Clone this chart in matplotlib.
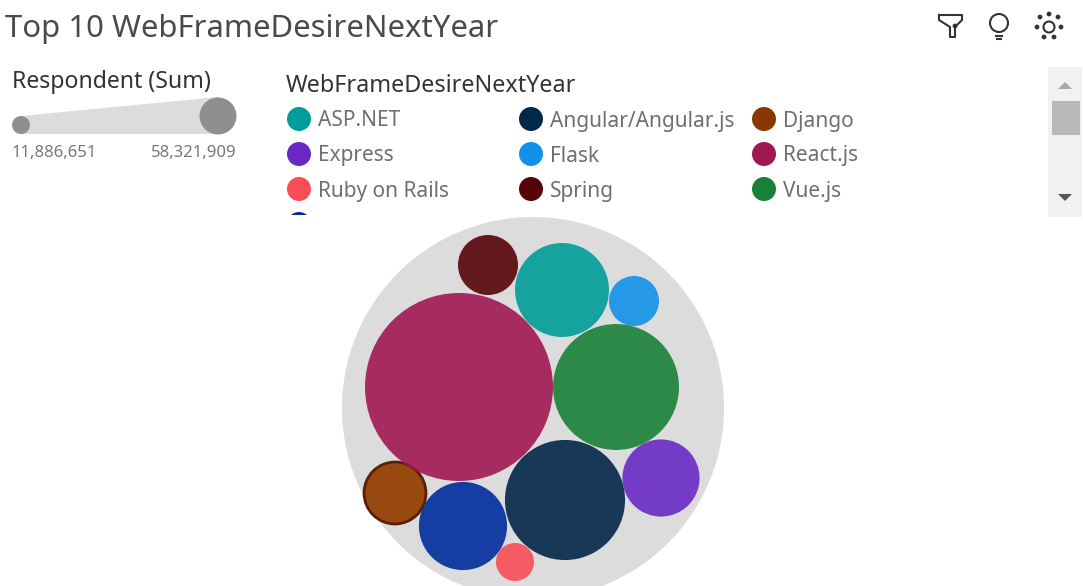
import matplotlib as mpl
mpl.use('Agg')
import matplotlib.pyplot as plt
from matplotlib.patches import Circle, Polygon, Rectangle

plt.rcParams['font.family'] = ['Noto Sans', 'DejaVu Sans']

# data
frameworks = ['ASP.NET', 'Angular/Angular.js', 'Django', 'Express', 'Flask',
              'React.js', 'Ruby on Rails', 'Spring', 'Vue.js', 'jQuery']
respondents = [29200000, 37300000, 19300000, 24000000, 15600000,
               58321909, 11886651, 18700000, 39100000, 27400000]
colors = ['#009d9a', '#012749', '#8a3800', '#6929c4', '#1192e8',
          '#9f1853', '#fa4d56', '#570408', '#198038', '#002d9c']
# packed layout positions, in pixels
layout_x = [562, 565, 395, 661, 634, 459, 515, 488, 616, 463]
layout_y = [290, 500, 493, 478, 301, 387, 562, 265, 387, 526]
range_labels = ['11,886,651', '58,321,909']

vmin, vmax = min(respondents), max(respondents)
rmin, rmax = 19, 94


def radius(v):
    return rmin + (v - vmin) / (vmax - vmin) * (rmax - rmin)


fig = plt.figure(figsize=(10.83, 5.86), dpi=100)
ax = fig.add_axes([0, 0, 1, 1])
ax.set_xlim(0, 1083)
ax.set_ylim(586, 0)
ax.axis('off')

ax.text(5, 29, 'Top 10 WebFrameDesireNextYear', fontsize=22.4, color='#4a4a4a', va='center')

# size legend
ax.text(12, 82, 'Respondent (Sum)', fontsize=16.6, color='#333333', va='center')
ax.add_patch(Polygon([(21, 116), (218, 97), (218, 134), (21, 134)], fc='#dcdcdc', ec='none'))
ax.add_patch(Circle((21, 125), 9, fc='#8f8f8f', ec='none'))
ax.add_patch(Circle((218, 116), 18.5, fc='#8f8f8f', ec='none'))
ax.text(12, 153, range_labels[0], fontsize=12, color='#777777', va='center')
ax.text(237, 153, range_labels[1], fontsize=12, color='#777777', va='center', ha='right')

# colour legend, the fourth row is cut off by the scroll box
ax.text(286, 86, 'WebFrameDesireNextYear', fontsize=16.8, color='#333333', va='center')
clip = Rectangle((280, 60), 760, 155, transform=ax.transData)
for i, (name, col) in enumerate(zip(frameworks, colors)):
    cx = [299, 531, 764][i % 3]
    cy = 119 + 35 * (i // 3)
    dot = Circle((cx, cy), 12, fc=col, ec='none')
    ax.add_patch(dot)
    dot.set_clip_path(clip)
    t = ax.text(cx + 19, cy + 2, name, fontsize=15, color='#6f6f6f', va='center', clip_on=True)
    t.set_clip_path(clip)

# scroll bar
ax.add_patch(Rectangle((1048, 67), 34, 150, fc='#f1f1f1', ec='none'))
ax.add_patch(Rectangle((1052, 101), 28, 34, fc='#b9b9b9', ec='none'))
ax.add_patch(Polygon([(1058, 89), (1072, 89), (1065, 82)], fc='#a8a8a8', ec='none'))
ax.add_patch(Polygon([(1058, 194), (1072, 194), (1065, 201)], fc='#555555', ec='none'))

# toolbar icons
ic = '#333333'
ax.plot([939, 962, 962, 955, 955, 950, 950, 939, 939], [15, 15, 20, 27, 37, 37, 27, 20, 15],
        color=ic, lw=1.5)
ax.add_patch(Circle((955, 26), 2.4, fc=ic, ec='none'))
ax.add_patch(Circle((999, 23), 9, fc='none', ec=ic, lw=1.5))
ax.plot([996, 1002], [36, 36], color=ic, lw=1.5)
ax.plot([997, 1001], [39, 39], color=ic, lw=1.5)
ax.add_patch(Circle((1049, 27), 5.5, fc='none', ec=ic, lw=1.5))
for dx, dy in [(0, -13), (-9, -10), (9, -10), (-12, 0), (12, 0), (-5, 10), (5, 10)]:
    ax.add_patch(Circle((1049 + dx, 27 + dy), 2.4, fc=ic, ec='none'))

# bubbles
ax.add_patch(Circle((533, 408), 191, fc='#dcdcdc', ec='none'))
for name, v, x, y, col in zip(frameworks, respondents, layout_x, layout_y, colors):
    if name == 'Django':
        ax.add_patch(Circle((x, y), radius(v), fc='#98490f', ec='#5a1f08', lw=2))
    else:
        ax.add_patch(Circle((x, y), radius(v), fc=col, ec='none', alpha=0.9))

fig.savefig('out.png', dpi=100)
